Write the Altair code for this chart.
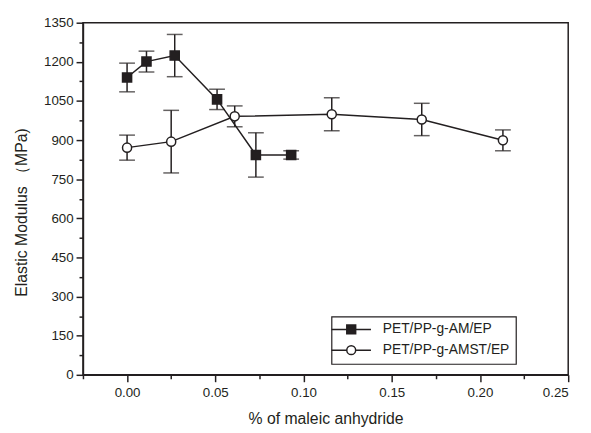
import altair as alt
import pandas as pd

series_names = ["PET/PP-g-AM/EP", "PET/PP-g-AMST/EP"]

am_x = [0.0, 0.011, 0.027, 0.051, 0.073, 0.093]
am_y = [1140, 1201, 1224, 1056, 843, 843]
am_err = [55, 40, 81, 39, 85, 16]

amst_x = [0.0, 0.025, 0.061, 0.116, 0.167, 0.213]
amst_y = [871, 894, 991, 999, 979, 899]
amst_err = [48, 120, 40, 63, 62, 40]

x_major = [0.0, 0.05, 0.10, 0.15, 0.20, 0.25]
x_minor = [-0.025, 0.025, 0.075, 0.125, 0.175, 0.225]
y_major = [0, 150, 300, 450, 600, 750, 900, 1050, 1200, 1350]
y_minor = [75, 225, 375, 525, 675, 825, 975, 1125, 1275]

rows = []
for name, xs, ys, es in [(series_names[0], am_x, am_y, am_err),
                         (series_names[1], amst_x, amst_y, amst_err)]:
    for xv, yv, ev in zip(xs, ys, es):
        rows.append({"series": name, "x": xv, "y": yv, "lo": yv - ev, "hi": yv + ev})
df = pd.DataFrame(rows)

INK = "#231f20"
FONT = "Liberation Sans"

xscale = alt.Scale(domain=[-0.025, 0.25], nice=False, zero=False)
yscale = alt.Scale(domain=[0, 1350], nice=False)

x_axis = alt.Axis(orient="bottom", values=x_major, format=".2f", tickSize=7, labelPadding=4,
                  title="% of maleic anhydride", titlePadding=12)
y_axis = alt.Axis(orient="left", values=y_major, format="d", tickSize=7, labelPadding=3,
                  title="Elastic Modulus （MPa)", titlePadding=14, titleY=192)
x_axis_minor = alt.Axis(orient="bottom", values=x_minor, tickSize=4, labels=False, domain=False, title=None)
y_axis_minor = alt.Axis(orient="left", values=y_minor, tickSize=4, labels=False, domain=False, title=None)

base = alt.Chart(df)

lines = base.mark_line(color=INK, strokeWidth=1.5).encode(
    x=alt.X("x:Q", scale=xscale, axis=None),
    y=alt.Y("y:Q", scale=yscale, axis=None),
    detail="series:N",
    order="x:Q",
)

bars = base.mark_rule(color=INK, strokeWidth=1.5).encode(
    x=alt.X("x:Q", scale=xscale, axis=None),
    y=alt.Y("lo:Q", scale=yscale, axis=None),
    y2="hi:Q",
)

caps_lo = base.mark_tick(color=INK, orient="horizontal", size=16, thickness=1.5).encode(
    x=alt.X("x:Q", scale=xscale, axis=None),
    y=alt.Y("lo:Q", scale=yscale, axis=None),
)
caps_hi = base.mark_tick(color=INK, orient="horizontal", size=16, thickness=1.5).encode(
    x=alt.X("x:Q", scale=xscale, axis=None),
    y=alt.Y("hi:Q", scale=yscale, axis=None),
)

points = base.mark_point(filled=True, stroke=INK, strokeWidth=1.5, size=85, opacity=1).encode(
    x=alt.X("x:Q", scale=xscale, axis=x_axis),
    y=alt.Y("y:Q", scale=yscale, axis=y_axis),
    shape=alt.Shape("series:N", scale=alt.Scale(domain=series_names, range=["square", "circle"]), legend=None),
    fill=alt.Fill("series:N", scale=alt.Scale(domain=series_names, range=[INK, "white"]), legend=None),
)

path_sq = "M-4,0H-0.9M0.9,0H4M-0.9,-0.9H0.9V0.9H-0.9Z"
path_ci = "M-4,0H-0.9M0.9,0H4M-0.9,0A0.9,0.9,0,1,0,0.9,0A0.9,0.9,0,1,0,-0.9,0Z"

legend_layer = base.transform_filter("false").mark_point(
    filled=True, strokeWidth=1.5, size=100, opacity=1
).encode(
    x=alt.X("x:Q", scale=xscale, axis=x_axis_minor),
    y=alt.Y("y:Q", scale=yscale, axis=y_axis_minor),
    shape=alt.Shape("series:N", scale=alt.Scale(domain=series_names, range=[path_sq, path_ci]),
                    legend=alt.Legend(title=None)),
    fill=alt.Fill("series:N", scale=alt.Scale(domain=series_names, range=[INK, "white"]),
                  legend=alt.Legend(title=None)),
    stroke=alt.Stroke("series:N", scale=alt.Scale(domain=series_names, range=[INK, INK]),
                      legend=alt.Legend(title=None)),
)

chart = alt.layer(legend_layer, lines, bars, caps_lo, caps_hi, points).resolve_axis(
    x="independent", y="independent"
).resolve_scale(shape="independent", fill="independent", stroke="independent").properties(
    width=492, height=357,
    autosize=alt.AutoSizeParams(type="none"),
    padding={"left": 76, "top": 12, "right": 15, "bottom": 50},
).configure_view(
    stroke=INK, strokeWidth=1.5
).configure_axis(
    domainColor=INK, domainWidth=1.5, tickColor=INK, tickWidth=1.5,
    labelFont=FONT, labelFontSize=13.5, labelColor=INK,
    titleFont=FONT, titleFontSize=16, titleFontWeight="normal", titleColor=INK,
    grid=False,
).configure_legend(
    orient="none", legendX=252, legendY=298,
    strokeColor=INK, strokeWidth=1.2, fillColor="white",
    padding=6, symbolOffset=7, labelOffset=25, rowPadding=5,
    labelFont=FONT, labelFontSize=14, labelColor=INK,
    symbolStrokeWidth=1.5, symbolStrokeColor=INK, labelLimit=300,
)

chart.save("out.html", embed_options={"renderer": "svg", "actions": False})
